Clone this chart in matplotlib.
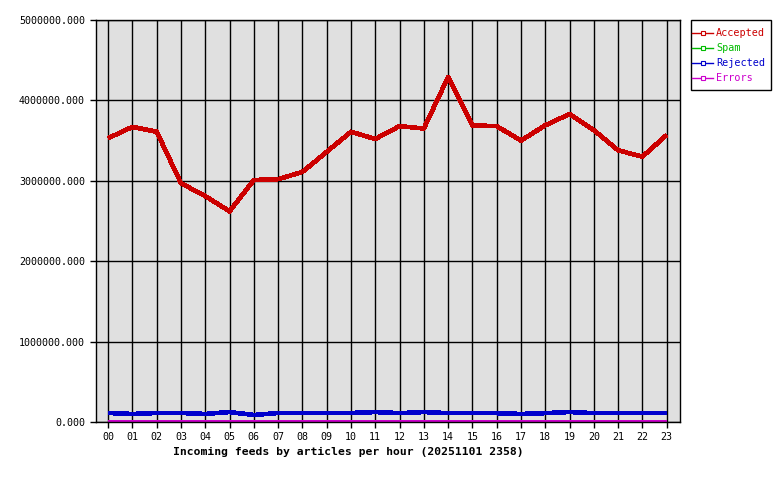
import matplotlib
matplotlib.use("Agg")
import matplotlib.pyplot as plt
from matplotlib.lines import Line2D
from matplotlib.patches import Rectangle

hours = ["00", "01", "02", "03", "04", "05", "06", "07", "08", "09", "10", "11",
         "12", "13", "14", "15", "16", "17", "18", "19", "20", "21", "22", "23"]

accepted = [3530000, 3670000, 3610000, 2970000, 2810000, 2620000, 3010000, 3020000,
            3110000, 3360000, 3610000, 3520000, 3680000, 3650000, 4290000, 3690000,
            3680000, 3500000, 3690000, 3830000, 3630000, 3380000, 3300000, 3570000]
spam = [0] * 24
rejected = [112000, 100000, 112000, 112000, 100000, 124000, 87000, 112000,
            112000, 112000, 112000, 124000, 110000, 124000, 110000, 110000,
            110000, 100000, 110000, 124000, 110000, 110000, 110000, 110000]
errors = [2000] * 24

series = [("Accepted", accepted, "#cc0000"),
          ("Spam", spam, "#00bb00"),
          ("Rejected", rejected, "#0000cc"),
          ("Errors", errors, "#cc00cc")]

plt.rcParams["font.family"] = "DejaVu Sans Mono"

W, H = 780, 480
fig = plt.figure(figsize=(7.8, 4.8), dpi=100)
ax = fig.add_axes([96 / W, 1 - 422 / H, (680 - 96) / W, (422 - 20) / H])
ax.set_facecolor("#e0e0e0")

x = list(range(len(hours)))
for name, vals, col in series:
    ax.plot(x, vals, color=col, linewidth=2.6, antialiased=False, solid_capstyle="butt")

ax.set_xlim(-0.5, 23.55)
ax.set_ylim(0, 5000000)
ax.set_xticks(x)
ax.set_xticklabels(hours)
ax.set_yticks([0, 1000000, 2000000, 3000000, 4000000, 5000000])
ax.set_yticklabels(["%.3f" % v for v in [0, 1000000, 2000000, 3000000, 4000000, 5000000]])
ax.grid(True, color="black", linewidth=1)
ax.set_axisbelow(True)
ax.tick_params(axis="both", labelsize=7.2, length=4, width=1, color="black", direction="out")
ax.tick_params(axis="x", pad=3)
ax.tick_params(axis="y", pad=4)
for s in ax.spines.values():
    s.set_color("black")
    s.set_linewidth(1)

fig.text(348 / W, 1 - 452 / H, "Incoming feeds by articles per hour (20251101 2358)",
         ha="center", va="center", fontsize=8.2, fontweight="bold")

# legend box drawn by hand to match the original layout
fig.patches.append(Rectangle((690.5 / W, 1 - 90 / H), 80 / W, 70 / H,
                             transform=fig.transFigure, facecolor="white",
                             edgecolor="black", linewidth=1))
for i, (name, vals, col) in enumerate(series):
    yy = 1 - (33 + 15 * i) / H
    fig.lines.append(Line2D([692 / W, 713 / W], [yy, yy], transform=fig.transFigure,
                            color=col, linewidth=1))
    fig.lines.append(Line2D([703 / W], [yy], transform=fig.transFigure, color=col,
                            marker="s", markersize=3, markerfacecolor="white",
                            markeredgecolor=col, markeredgewidth=0.8, linestyle="none"))
    fig.text(716 / W, yy, name, color=col, fontsize=7.3, ha="left", va="center")

fig.savefig("out.png", dpi=100)
